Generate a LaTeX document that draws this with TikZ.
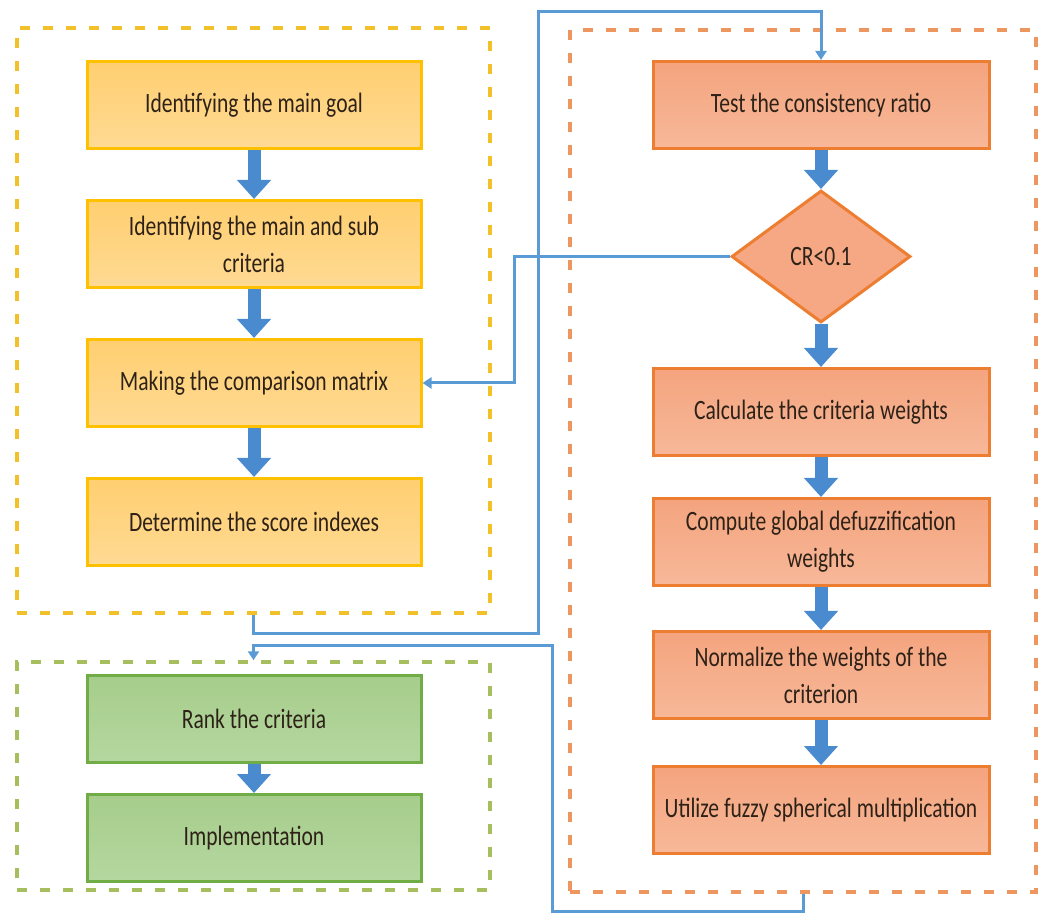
\documentclass[tikz,border=0pt]{standalone}
\usepackage{fontspec}
\setmainfont[FakeStretch=0.77]{Carlito}
\usetikzlibrary{shapes.geometric, arrows.meta, positioning, calc}
\definecolor{goldline}{HTML}{FFC000}
\definecolor{goldtop}{HTML}{FFCF70}
\definecolor{goldbot}{HTML}{FFDA94}
\definecolor{orgline}{HTML}{ED7D31}
\definecolor{orgtop}{HTML}{F4A47E}
\definecolor{orgbot}{HTML}{F7B899}
\definecolor{grnline}{HTML}{70AD47}
\definecolor{grntop}{HTML}{A6CD8B}
\definecolor{grnbot}{HTML}{B5D7A0}
\definecolor{flowblue}{HTML}{4A8BD0}
\definecolor{linkblue}{HTML}{5B9BD5}
\definecolor{txt}{HTML}{2E2218}
\definecolor{dashgold}{HTML}{F2C12A}
\definecolor{dashorg}{HTML}{EE9660}
\definecolor{dashgrn}{HTML}{A6BE5E}
\tikzstyle{stage} = [rectangle, minimum width=334pt, minimum height=87pt, align=center, inner sep=2pt, line width=3pt, text=txt, font=\fontsize{28}{37}\selectfont]
\tikzstyle{goalbox} = [stage, draw=goldline, top color=goldtop, bottom color=goldbot]
\tikzstyle{calcbox} = [stage, draw=orgline, top color=orgtop, bottom color=orgbot, minimum width=336pt]
\tikzstyle{rankbox} = [stage, draw=grnline, top color=grntop, bottom color=grnbot]
\tikzstyle{testbox} = [diamond, minimum width=179pt, minimum height=132pt, aspect=1.36, inner sep=0pt, line width=3pt, draw=orgline, fill=orgtop!80!orgbot, text=txt, font=\fontsize{28}{37}\selectfont]
\tikzstyle{group} = [rectangle, line width=3.5pt, dash pattern=on 10pt off 13pt]
\tikzstyle{flow} = [line width=13pt, draw=flowblue, -{Triangle[width=33pt, length=19pt]}]
\tikzstyle{link} = [line width=3pt, draw=linkblue, -{Triangle[width=11pt, length=9pt]}]

\begin{document}
\begin{tikzpicture}[x=1pt, y=1pt, node distance=49pt]
      \useasboundingbox (0,0) rectangle (1040,913);
      % Dashed frames
      \node[group, draw=dashgold, minimum width=473pt, minimum height=585pt] (grpA) at (253.5,592.5) {};
      \node[group, draw=dashgrn, minimum width=473pt, minimum height=228pt] (grpB) at (253.5,137) {};
      \node[group, draw=dashorg, minimum width=466pt, minimum height=862pt] (grpC) at (803,452) {};

      % Left column
      \node[goalbox] (goal) at (254,808) {Identifying the main goal};
      \node[goalbox, below=of goal] (crit) {Identifying the main and sub\\criteria};
      \node[goalbox, below=of crit] (matrix) {Making the comparison matrix};
      \node[goalbox, below=of matrix] (score) {Determine the score indexes};

      % Bottom left
      \node[rankbox] (rank) at (254,194) {Rank the criteria};
      \node[rankbox, below=29pt of rank] (impl) {Implementation};

      % Right column
      \node[calcbox] (test) at (821,808) {Test the consistency ratio};
      \node[testbox, below=39pt of test] (cr) {CR<0.1};
      \node[calcbox, below=43pt of cr] (weights) {Calculate the criteria weights};
      \node[calcbox, below=40pt of weights] (global) {Compute global defuzzification\\weights};
      \node[calcbox, below=43pt of global] (norm) {Normalize the weights of the\\criterion};
      \node[calcbox, below=45pt of norm] (fuzzy) {Utilize fuzzy spherical multiplication};

      % Block arrows
      \draw[flow] (goal) -- (crit);
      \draw[flow] (crit) -- (matrix);
      \draw[flow] (matrix) -- (score);
      \draw[flow] (rank) -- (impl);
      \draw[flow] (test) -- (cr);
      \draw[flow] (cr) -- (weights);
      \draw[flow] (weights) -- (global);
      \draw[flow] (global) -- (norm);
      \draw[flow] (norm) -- (fuzzy);

      % Connectors
      \coordinate (loopA) at (538,280);
      \coordinate (loopB) at (821,901);
      \coordinate (loopC) at (552,268);
      \draw[link] (grpA.south) |- (loopA) |- (loopB) -- (test.north);
      \draw[link] (cr.west) -- ++(-216,0) |- (matrix.east);
      \draw[link] (grpC.south) -- ++(0,-18) -| (loopC) -| (grpB.north);
    \end{tikzpicture}
\end{document}
